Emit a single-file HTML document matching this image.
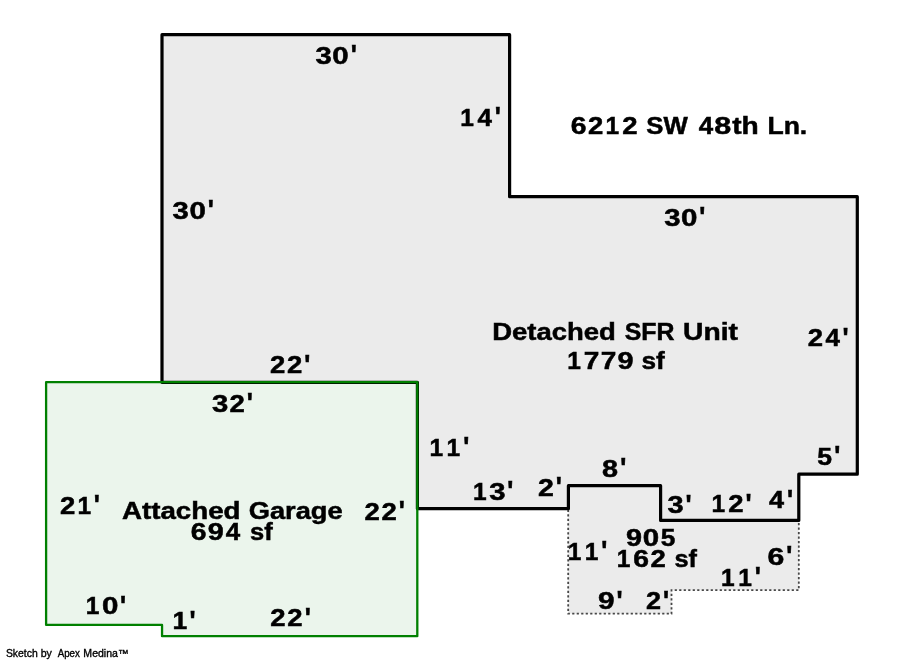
<!DOCTYPE html>
<html><head><meta charset="utf-8"><title>Sketch</title>
<style>
html,body{margin:0;padding:0;background:#fff;}
body{width:900px;height:660px;overflow:hidden;}
svg{display:block;will-change:transform;font-family:"Liberation Sans",sans-serif;}
</style></head><body>
<svg width="900" height="660" viewBox="0 0 900 660">
<rect width="900" height="660" fill="#ffffff"/>
<!-- main house -->
<path d="M162 34.65 H509.6 V196.65 H857.3 V474.2 H798.8 V520.4 H660.6 V485.7 H568.4 V508.7 H417.4 V382.3 H162 Z" fill="#ebebeb" stroke="none"/>
<!-- porch -->
<path d="M568.4 485.7 H660.6 V520.4 H798.8 V590.2 H671.5 V613.7 H568.2 Z" fill="#ebebeb" stroke="none"/>
<!-- garage fill -->
<path d="M46.1 382.15 H417.3 V636.15 H162.05 V624.95 H46.1 Z" fill="#ebf5ec" stroke="none"/>
<!-- porch dotted outline -->
<path d="M568.2 509 V613.7 H671.5 V590.2 H798.8 V520.4" fill="none" stroke="#474747" stroke-width="1.8" stroke-dasharray="2.2 2.3" stroke-dashoffset="-0.7"/>
<!-- main house outline -->
<path d="M162 34.65 H509.6 V196.65 H857.3 V474.2 H798.8 V520.4 H660.6 V485.7 H568.4 V508.7 H417.4 V382.3 H162 Z" fill="none" stroke="#000" stroke-width="3.2" stroke-linejoin="round"/>
<!-- garage outline -->
<path d="M46.1 382.15 H417.3 V636.15 H162.05 V624.95 H46.1 Z" fill="none" stroke="#008000" stroke-width="2.3" stroke-linejoin="round"/>

<g>
<text transform="translate(315.41 63.60) scale(1.2190 1)" font-size="24.0" font-weight="bold" fill="#000" stroke="#000" stroke-width="0.5">3</text>
<text transform="translate(332.23 63.60) scale(1.2290 1)" font-size="24.0" font-weight="bold" fill="#000" stroke="#000" stroke-width="0.5">0</text>
<text transform="translate(350.65 64.00) scale(1.0652 1.1170)" font-size="24.0" font-weight="bold" fill="#000" stroke="#000" stroke-width="0.5">'</text>
<text transform="translate(460.25 125.80) scale(1.0210 1)" font-size="24.0" font-weight="bold" fill="#000" stroke="#000" stroke-width="0.5">1</text>
<text transform="translate(477.62 125.80) scale(1.0800 1)" font-size="24.0" font-weight="bold" fill="#000" stroke="#000" stroke-width="0.5">4</text>
<text transform="translate(494.65 126.20) scale(1.0652 1.1170)" font-size="24.0" font-weight="bold" fill="#000" stroke="#000" stroke-width="0.5">'</text>
<text transform="translate(570.74 134.00) scale(1.1800 1)" font-size="24.0" font-weight="bold" fill="#000" stroke="#000" stroke-width="0.5">6</text>
<text transform="translate(588.10 134.00) scale(1.1460 1)" font-size="24.0" font-weight="bold" fill="#000" stroke="#000" stroke-width="0.5">2</text>
<text transform="translate(605.50 134.00) scale(1.0210 1)" font-size="24.0" font-weight="bold" fill="#000" stroke="#000" stroke-width="0.5">1</text>
<text transform="translate(622.22 134.00) scale(1.1460 1)" font-size="24.0" font-weight="bold" fill="#000" stroke="#000" stroke-width="0.5">2</text>
<text transform="translate(646.25 134.00) scale(1.0550 1.0000)" font-size="24.4" font-weight="bold" fill="#000" stroke="#000" stroke-width="0.5">SW</text>
<text transform="translate(698.75 134.00) scale(1.0800 1)" font-size="24.0" font-weight="bold" fill="#000" stroke="#000" stroke-width="0.5">4</text>
<text transform="translate(714.25 134.00) scale(1.2710 1)" font-size="24.0" font-weight="bold" fill="#000" stroke="#000" stroke-width="0.5">8</text>
<text transform="translate(732.16 134.00) scale(1.1541 1.0000)" font-size="24.4" font-weight="bold" fill="#000" stroke="#000" stroke-width="0.5">th</text>
<text transform="translate(767.42 134.00) scale(1.0877 1.0000)" font-size="24.4" font-weight="bold" fill="#000" stroke="#000" stroke-width="0.5">Ln.</text>
<text transform="translate(172.56 219.00) scale(1.2190 1)" font-size="24.0" font-weight="bold" fill="#000" stroke="#000" stroke-width="0.5">3</text>
<text transform="translate(189.38 219.00) scale(1.2290 1)" font-size="24.0" font-weight="bold" fill="#000" stroke="#000" stroke-width="0.5">0</text>
<text transform="translate(207.85 219.40) scale(1.0652 1.1170)" font-size="24.0" font-weight="bold" fill="#000" stroke="#000" stroke-width="0.5">'</text>
<text transform="translate(664.21 225.60) scale(1.2190 1)" font-size="24.0" font-weight="bold" fill="#000" stroke="#000" stroke-width="0.5">3</text>
<text transform="translate(681.03 225.60) scale(1.2290 1)" font-size="24.0" font-weight="bold" fill="#000" stroke="#000" stroke-width="0.5">0</text>
<text transform="translate(699.35 226.00) scale(1.0652 1.1170)" font-size="24.0" font-weight="bold" fill="#000" stroke="#000" stroke-width="0.5">'</text>
<text transform="translate(492.16 340.30) scale(1.1257 1.0000)" font-size="24.4" font-weight="bold" fill="#000" stroke="#000" stroke-width="0.5">Detached</text>
<text transform="translate(624.78 340.30) scale(1.0193 1.0000)" font-size="24.4" font-weight="bold" fill="#000" stroke="#000" stroke-width="0.5">SFR</text>
<text transform="translate(683.00 340.30) scale(1.1581 1.0000)" font-size="24.4" font-weight="bold" fill="#000" stroke="#000" stroke-width="0.5">Unit</text>
<text transform="translate(567.13 369.00) scale(1.0210 1)" font-size="24.0" font-weight="bold" fill="#000" stroke="#000" stroke-width="0.5">1</text>
<text transform="translate(583.66 369.00) scale(1.1670 1)" font-size="24.0" font-weight="bold" fill="#000" stroke="#000" stroke-width="0.5">7</text>
<text transform="translate(600.72 369.00) scale(1.1670 1)" font-size="24.0" font-weight="bold" fill="#000" stroke="#000" stroke-width="0.5">7</text>
<text transform="translate(617.58 369.00) scale(1.2000 1)" font-size="24.0" font-weight="bold" fill="#000" stroke="#000" stroke-width="0.5">9</text>
<text transform="translate(641.38 369.00) scale(1.0725 1.0000)" font-size="24.4" font-weight="bold" fill="#000" stroke="#000" stroke-width="0.5">sf</text>
<text transform="translate(807.68 346.30) scale(1.1460 1)" font-size="24.0" font-weight="bold" fill="#000" stroke="#000" stroke-width="0.5">2</text>
<text transform="translate(825.38 346.30) scale(1.0800 1)" font-size="24.0" font-weight="bold" fill="#000" stroke="#000" stroke-width="0.5">4</text>
<text transform="translate(842.45 346.70) scale(1.0652 1.1170)" font-size="24.0" font-weight="bold" fill="#000" stroke="#000" stroke-width="0.5">'</text>
<text transform="translate(270.04 373.30) scale(1.1460 1)" font-size="24.0" font-weight="bold" fill="#000" stroke="#000" stroke-width="0.5">2</text>
<text transform="translate(287.10 373.30) scale(1.1460 1)" font-size="24.0" font-weight="bold" fill="#000" stroke="#000" stroke-width="0.5">2</text>
<text transform="translate(304.35 373.70) scale(1.0652 1.1170)" font-size="24.0" font-weight="bold" fill="#000" stroke="#000" stroke-width="0.5">'</text>
<text transform="translate(212.00 411.50) scale(1.2190 1)" font-size="24.0" font-weight="bold" fill="#000" stroke="#000" stroke-width="0.5">3</text>
<text transform="translate(229.43 411.50) scale(1.1460 1)" font-size="24.0" font-weight="bold" fill="#000" stroke="#000" stroke-width="0.5">2</text>
<text transform="translate(246.75 411.90) scale(1.0652 1.1170)" font-size="24.0" font-weight="bold" fill="#000" stroke="#000" stroke-width="0.5">'</text>
<text transform="translate(429.48 455.80) scale(1.0210 1)" font-size="24.0" font-weight="bold" fill="#000" stroke="#000" stroke-width="0.5">1</text>
<text transform="translate(446.54 455.80) scale(1.0210 1)" font-size="24.0" font-weight="bold" fill="#000" stroke="#000" stroke-width="0.5">1</text>
<text transform="translate(463.25 456.20) scale(1.0652 1.1170)" font-size="24.0" font-weight="bold" fill="#000" stroke="#000" stroke-width="0.5">'</text>
<text transform="translate(472.89 500.00) scale(1.0210 1)" font-size="24.0" font-weight="bold" fill="#000" stroke="#000" stroke-width="0.5">1</text>
<text transform="translate(489.25 500.00) scale(1.2190 1)" font-size="24.0" font-weight="bold" fill="#000" stroke="#000" stroke-width="0.5">3</text>
<text transform="translate(507.25 500.40) scale(1.0652 1.1170)" font-size="24.0" font-weight="bold" fill="#000" stroke="#000" stroke-width="0.5">'</text>
<text transform="translate(537.90 495.80) scale(1.1868 1.0000)" font-size="24.0" font-weight="bold" fill="#000" stroke="#000" stroke-width="0.5">2</text>
<text transform="translate(555.65 496.20) scale(1.0652 1.1170)" font-size="24.0" font-weight="bold" fill="#000" stroke="#000" stroke-width="0.5">'</text>
<text transform="translate(602.08 476.50) scale(1.2001 1.0000)" font-size="24.0" font-weight="bold" fill="#000" stroke="#000" stroke-width="0.5">8</text>
<text transform="translate(620.25 476.90) scale(1.0652 1.1170)" font-size="24.0" font-weight="bold" fill="#000" stroke="#000" stroke-width="0.5">'</text>
<text transform="translate(817.18 465.00) scale(1.1066 1.0000)" font-size="24.0" font-weight="bold" fill="#000" stroke="#000" stroke-width="0.5">5</text>
<text transform="translate(834.25 465.40) scale(1.0652 1.1170)" font-size="24.0" font-weight="bold" fill="#000" stroke="#000" stroke-width="0.5">'</text>
<text transform="translate(667.43 513.20) scale(1.2072 1.0000)" font-size="24.0" font-weight="bold" fill="#000" stroke="#000" stroke-width="0.5">3</text>
<text transform="translate(685.55 513.60) scale(1.0652 1.1170)" font-size="24.0" font-weight="bold" fill="#000" stroke="#000" stroke-width="0.5">'</text>
<text transform="translate(711.47 512.30) scale(1.0210 1)" font-size="24.0" font-weight="bold" fill="#000" stroke="#000" stroke-width="0.5">1</text>
<text transform="translate(728.19 512.30) scale(1.1460 1)" font-size="24.0" font-weight="bold" fill="#000" stroke="#000" stroke-width="0.5">2</text>
<text transform="translate(745.45 512.70) scale(1.0652 1.1170)" font-size="24.0" font-weight="bold" fill="#000" stroke="#000" stroke-width="0.5">'</text>
<text transform="translate(768.99 508.10) scale(1.1272 1.0000)" font-size="24.0" font-weight="bold" fill="#000" stroke="#000" stroke-width="0.5">4</text>
<text transform="translate(786.95 508.50) scale(1.0652 1.1170)" font-size="24.0" font-weight="bold" fill="#000" stroke="#000" stroke-width="0.5">'</text>
<text transform="translate(60.10 513.60) scale(1.1460 1)" font-size="24.0" font-weight="bold" fill="#000" stroke="#000" stroke-width="0.5">2</text>
<text transform="translate(77.50 513.60) scale(1.0210 1)" font-size="24.0" font-weight="bold" fill="#000" stroke="#000" stroke-width="0.5">1</text>
<text transform="translate(93.85 514.00) scale(1.0652 1.1170)" font-size="24.0" font-weight="bold" fill="#000" stroke="#000" stroke-width="0.5">'</text>
<text transform="translate(122.01 519.00) scale(1.1352 1.0000)" font-size="24.4" font-weight="bold" fill="#000" stroke="#000" stroke-width="0.5">Attached</text>
<text transform="translate(248.78 519.00) scale(1.1161 1.0000)" font-size="24.4" font-weight="bold" fill="#000" stroke="#000" stroke-width="0.5">Garage</text>
<text transform="translate(190.80 540.20) scale(1.1800 1)" font-size="24.0" font-weight="bold" fill="#000" stroke="#000" stroke-width="0.5">6</text>
<text transform="translate(207.77 540.20) scale(1.2000 1)" font-size="24.0" font-weight="bold" fill="#000" stroke="#000" stroke-width="0.5">9</text>
<text transform="translate(225.87 540.20) scale(1.0800 1)" font-size="24.0" font-weight="bold" fill="#000" stroke="#000" stroke-width="0.5">4</text>
<text transform="translate(250.01 540.20) scale(1.0437 1.0000)" font-size="24.4" font-weight="bold" fill="#000" stroke="#000" stroke-width="0.5">sf</text>
<text transform="translate(364.44 519.60) scale(1.1460 1)" font-size="24.0" font-weight="bold" fill="#000" stroke="#000" stroke-width="0.5">2</text>
<text transform="translate(381.50 519.60) scale(1.1460 1)" font-size="24.0" font-weight="bold" fill="#000" stroke="#000" stroke-width="0.5">2</text>
<text transform="translate(398.85 520.00) scale(1.0652 1.1170)" font-size="24.0" font-weight="bold" fill="#000" stroke="#000" stroke-width="0.5">'</text>
<text transform="translate(85.78 614.10) scale(1.0210 1)" font-size="24.0" font-weight="bold" fill="#000" stroke="#000" stroke-width="0.5">1</text>
<text transform="translate(101.89 614.10) scale(1.2290 1)" font-size="24.0" font-weight="bold" fill="#000" stroke="#000" stroke-width="0.5">0</text>
<text transform="translate(120.05 614.50) scale(1.0652 1.1170)" font-size="24.0" font-weight="bold" fill="#000" stroke="#000" stroke-width="0.5">'</text>
<text transform="translate(172.53 629.40) scale(1.1022 1.0000)" font-size="24.0" font-weight="bold" fill="#000" stroke="#000" stroke-width="0.5">1</text>
<text transform="translate(189.55 629.80) scale(1.0652 1.1170)" font-size="24.0" font-weight="bold" fill="#000" stroke="#000" stroke-width="0.5">'</text>
<text transform="translate(270.14 626.30) scale(1.1460 1)" font-size="24.0" font-weight="bold" fill="#000" stroke="#000" stroke-width="0.5">2</text>
<text transform="translate(287.20 626.30) scale(1.1460 1)" font-size="24.0" font-weight="bold" fill="#000" stroke="#000" stroke-width="0.5">2</text>
<text transform="translate(304.65 626.70) scale(1.0652 1.1170)" font-size="24.0" font-weight="bold" fill="#000" stroke="#000" stroke-width="0.5">'</text>
<text transform="translate(625.98 545.90) scale(1.2000 1)" font-size="24.0" font-weight="bold" fill="#000" stroke="#000" stroke-width="0.5">9</text>
<text transform="translate(642.84 545.90) scale(1.2290 1)" font-size="24.0" font-weight="bold" fill="#000" stroke="#000" stroke-width="0.5">0</text>
<text transform="translate(660.74 545.90) scale(1.0940 1)" font-size="24.0" font-weight="bold" fill="#000" stroke="#000" stroke-width="0.5">5</text>
<text transform="translate(616.74 566.80) scale(1.0210 1)" font-size="24.0" font-weight="bold" fill="#000" stroke="#000" stroke-width="0.5">1</text>
<text transform="translate(633.15 566.80) scale(1.1800 1)" font-size="24.0" font-weight="bold" fill="#000" stroke="#000" stroke-width="0.5">6</text>
<text transform="translate(650.52 566.80) scale(1.1460 1)" font-size="24.0" font-weight="bold" fill="#000" stroke="#000" stroke-width="0.5">2</text>
<text transform="translate(674.42 566.80) scale(1.0342 1.0000)" font-size="24.4" font-weight="bold" fill="#000" stroke="#000" stroke-width="0.5">sf</text>
<text transform="translate(567.68 560.00) scale(1.0210 1)" font-size="24.0" font-weight="bold" fill="#000" stroke="#000" stroke-width="0.5">1</text>
<text transform="translate(584.74 560.00) scale(1.0210 1)" font-size="24.0" font-weight="bold" fill="#000" stroke="#000" stroke-width="0.5">1</text>
<text transform="translate(601.35 560.40) scale(1.0652 1.1170)" font-size="24.0" font-weight="bold" fill="#000" stroke="#000" stroke-width="0.5">'</text>
<text transform="translate(767.38 565.00) scale(1.2595 1.0000)" font-size="24.0" font-weight="bold" fill="#000" stroke="#000" stroke-width="0.5">6</text>
<text transform="translate(786.15 565.40) scale(1.0652 1.1170)" font-size="24.0" font-weight="bold" fill="#000" stroke="#000" stroke-width="0.5">'</text>
<text transform="translate(721.08 585.50) scale(1.0210 1)" font-size="24.0" font-weight="bold" fill="#000" stroke="#000" stroke-width="0.5">1</text>
<text transform="translate(738.14 585.50) scale(1.0210 1)" font-size="24.0" font-weight="bold" fill="#000" stroke="#000" stroke-width="0.5">1</text>
<text transform="translate(754.65 585.90) scale(1.0652 1.1170)" font-size="24.0" font-weight="bold" fill="#000" stroke="#000" stroke-width="0.5">'</text>
<text transform="translate(597.96 609.20) scale(1.2397 1.0000)" font-size="24.0" font-weight="bold" fill="#000" stroke="#000" stroke-width="0.5">9</text>
<text transform="translate(616.45 609.60) scale(1.0652 1.1170)" font-size="24.0" font-weight="bold" fill="#000" stroke="#000" stroke-width="0.5">'</text>
<text transform="translate(646.05 609.20) scale(1.1261 1.0000)" font-size="24.0" font-weight="bold" fill="#000" stroke="#000" stroke-width="0.5">2</text>
<text transform="translate(663.05 609.60) scale(1.0652 1.1170)" font-size="24.0" font-weight="bold" fill="#000" stroke="#000" stroke-width="0.5">'</text>
<text transform="translate(5.93 656.80) scale(0.9825 1.0000)" font-size="10.6" font-weight="normal" fill="#000" stroke="#000" stroke-width="0.35">Sketch</text>
<text transform="translate(40.72 656.80) scale(0.9997 1.0000)" font-size="10.6" font-weight="normal" fill="#000" stroke="#000" stroke-width="0.35">by</text>
<text transform="translate(57.69 656.80) scale(0.9192 1.0000)" font-size="10.6" font-weight="normal" fill="#000" stroke="#000" stroke-width="0.35">Apex</text>
<text transform="translate(83.35 656.80) scale(0.9949 1.0000)" font-size="10.6" font-weight="normal" fill="#000" stroke="#000" stroke-width="0.35">Medina™</text>
</g>
</svg>
</body></html>
